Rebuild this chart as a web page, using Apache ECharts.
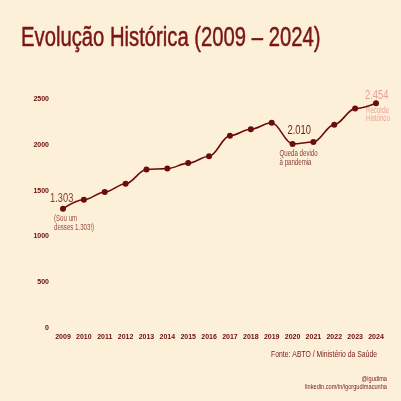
<!DOCTYPE html>
<html>
<head>
<meta charset="utf-8">
<script src="https://cdn.jsdelivr.net/npm/echarts@6/dist/echarts.min.js"></script>
<style>
html,body{margin:0;padding:0;background:#fdf0d8;}
#c{width:401px;height:401px;}
</style>
</head>
<body>
<div id="c"></div>
<script>
var years = ['2009','2010','2011','2012','2013','2014','2015','2016','2017','2018','2019','2020','2021','2022','2023','2024'];
var transplants = [1303, 1400, 1485, 1575, 1730, 1740, 1800, 1875, 2100, 2170, 2240, 2010, 2030, 2220, 2395, 2454];
var yTicks = [0, 500, 1000, 1500, 2000, 2500];

var COND = "'Liberation Sans','Arial',sans-serif";
var SQ = 0.72;
var dark = '#6b0d0d';

var chart = echarts.init(document.getElementById('c'), null, {renderer:'canvas'});
chart.setOption({
  backgroundColor: '#fdf0d8',
  animation: false,
  grid: {left: 63, right: 25, top: 99, bottom: 73, containLabel: false},
  xAxis: {
    type: 'category', data: years, boundaryGap: false,
    axisLine: {show: false}, axisTick: {show: false},
    axisLabel: {color: dark, fontFamily: 'Liberation Sans, Arial, sans-serif', fontWeight: 'bold', fontSize: 7, margin: 6}
  },
  yAxis: {
    type: 'value', min: yTicks[0], max: yTicks[yTicks.length-1], interval: 500,
    splitLine: {show: false}, axisLine: {show: false}, axisTick: {show: false},
    axisLabel: {color: dark, fontFamily: 'Liberation Sans, Arial, sans-serif', fontWeight: 'bold', fontSize: 7, margin: 14,
      formatter: function(v){ return String(v); }}
  },
  series: [{
    type: 'line', data: transplants, smooth: 0.35, smoothMonotone: 'x',
    symbol: 'circle', symbolSize: 6,
    lineStyle: {color: dark, width: 1.6},
    itemStyle: {color: dark}
  }]
});

function px(i){ return chart.convertToPixel({gridIndex:0}, [i, transplants[i]]); }
var p0 = px(0), p20 = px(years.indexOf('2020')), pl = px(years.length-1);
function fmt(v){ return String(v).replace(/\B(?=(\d{3})+(?!\d))/g, '.'); }

function t(x, y, text, size, fill, opts){
  opts = opts || {};
  return {type:'text', x: x, y: y, scaleX: opts.sx || SQ, scaleY: 1,
    style:{text: text, font: (opts.weight||'normal') + ' ' + size + 'px ' + COND, fill: fill,
      align: opts.align || 'left', verticalAlign: opts.va || 'middle', lineHeight: opts.lh || size,
      stroke: opts.stroke || null, lineWidth: opts.lw || 0}};
}

chart.setOption({
  graphic: [
    t(21, 39, 'Evolução Histórica (2009 – 2024)', 27, '#7b1416', {sx: 0.75, stroke: '#7b1416', lw: 0.5}),
    t(p0[0]-13, p0[1]-10, fmt(transplants[0]), 13, '#8b3a36'),
    t(p0[0]-9, p0[1]+6, '(Sou um\ndesses ' + fmt(transplants[0]) + '!)', 8.5, '#9a4a44', {lh: 8.5, va:'top'}),
    t(p20[0]-5, p20[1]-13, fmt(transplants[11]), 13, '#6b1a16'),
    t(p20[0]-13, p20[1]+5, 'Queda devido\nà pandemia', 8.5, '#8b3a36', {lh: 9, va:'top'}),
    t(pl[0]-11, pl[1]-8, fmt(transplants[15]), 13, '#e8a09a'),
    t(pl[0]-10, pl[1]+3, 'Recorde\nHistórico', 8.5, '#e8a09a', {lh: 8, va:'top'}),
    t(377, 354, 'Fonte: ABTO / Ministério da Saúde', 9.5, '#7a2020', {align:'right'}),
    t(387, 379, '@igudima', 7.5, '#7a2020', {align:'right', sx: 0.75}),
    t(387, 387, 'linkedin.com/in/igorgudimacunha', 7.5, '#7a2020', {align:'right', sx: 0.75})
  ]
});
</script>
</body>
</html>
